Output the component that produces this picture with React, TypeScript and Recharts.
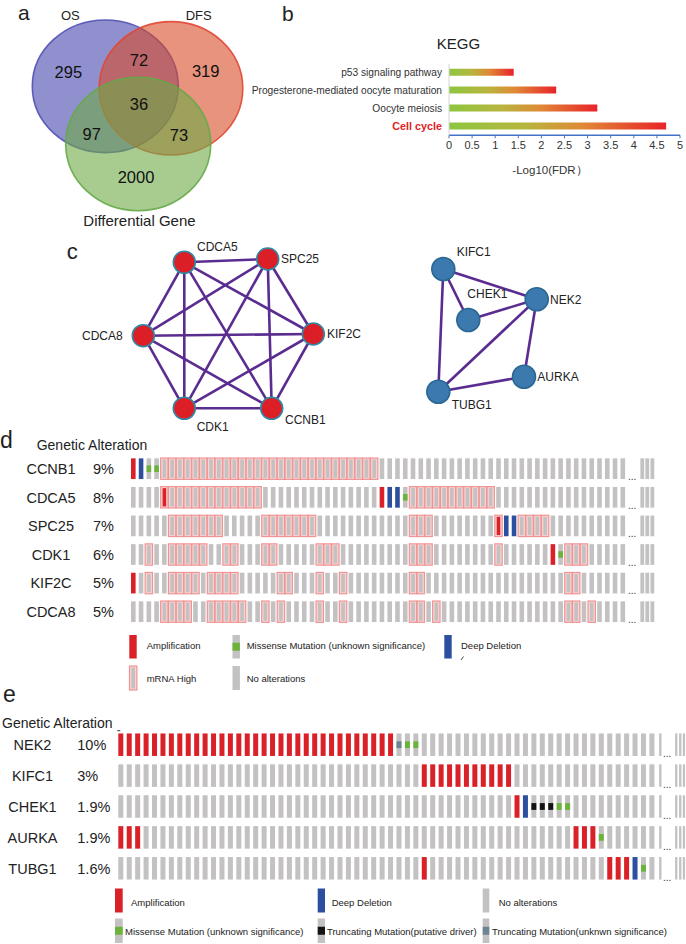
import React from "react";
import { ScatterChart, Scatter, XAxis, YAxis, BarChart, Bar } from "recharts";

const FONT = "'Liberation Sans', Arial, Helvetica, sans-serif";
const INK = "#222";

// ---------- a: Venn ----------
const vennSets = [
  { name: "OS", x: 105.3, y: 86.3, rx: 73, ry: 66.3 },
  { name: "DFS", x: 171, y: 88.3, rx: 71.8, ry: 66.7 },
  { name: "Differential Gene", x: 138.2, y: 144, rx: 72.5, ry: 66.7 }
];
const vennCounts = [
  { label: "295", x: 68.3, y: 71.7 },
  { label: "72", x: 139, y: 60 },
  { label: "319", x: 205.7, y: 70.7 },
  { label: "36", x: 139, y: 104 },
  { label: "97", x: 91.7, y: 134 },
  { label: "73", x: 179, y: 135 },
  { label: "2000", x: 136, y: 176.7 }
];
const vennStyle: Record<string, { fill: string; stroke: string }> = {
  OS: { fill: "rgba(70,70,175,0.6)", stroke: "rgba(80,80,180,0.9)" },
  DFS: { fill: "rgba(215,75,40,0.6)", stroke: "rgba(225,70,50,0.9)" },
  "Differential Gene": { fill: "rgba(110,170,70,0.6)", stroke: "rgba(100,170,70,0.9)" }
};

// ---------- b: KEGG ----------
const keggTerms = [
  "p53 signaling pathway",
  "Progesterone-mediated oocyte maturation",
  "Oocyte meiosis",
  "Cell cycle"
];
const keggLogFdr = [1.4, 2.32, 3.21, 4.7];
const keggTicks = [0, 0.5, 1, 1.5, 2, 2.5, 3, 3.5, 4, 4.5, 5];
const keggData = keggTerms.map((term, i) => ({ term, value: keggLogFdr[i] }));

// ---------- c: networks ----------
const redNodes = [
  { name: "CDCA5", x: 184.3, y: 262.3 },
  { name: "SPC25", x: 267.7, y: 259 },
  { name: "CDCA8", x: 143.3, y: 335.7 },
  { name: "KIF2C", x: 313.3, y: 334 },
  { name: "CDK1", x: 184.3, y: 408.3 },
  { name: "CCNB1", x: 271.7, y: 408.3 }
];
const redEdges = [
  ["CDCA5", "SPC25"], ["CDCA5", "CDCA8"], ["CDCA5", "KIF2C"], ["CDCA5", "CDK1"], ["CDCA5", "CCNB1"],
  ["SPC25", "CDCA8"], ["SPC25", "KIF2C"], ["SPC25", "CDK1"], ["SPC25", "CCNB1"],
  ["CDCA8", "KIF2C"], ["CDCA8", "CDK1"], ["CDCA8", "CCNB1"],
  ["KIF2C", "CDK1"], ["KIF2C", "CCNB1"],
  ["CDK1", "CCNB1"]
];
const blueNodes = [
  { name: "KIFC1", x: 443.3, y: 269 },
  { name: "CHEK1", x: 468.3, y: 320 },
  { name: "NEK2", x: 536.7, y: 299.3 },
  { name: "AURKA", x: 524, y: 376.7 },
  { name: "TUBG1", x: 438.3, y: 391.7 }
];
const blueEdges = [
  ["KIFC1", "NEK2"], ["KIFC1", "CHEK1"], ["KIFC1", "TUBG1"],
  ["CHEK1", "NEK2"], ["NEK2", "TUBG1"], ["NEK2", "AURKA"], ["AURKA", "TUBG1"]
];
// label offsets from node centre (dx, dy, anchor)
const nodeLabelPlace: Record<string, [number, number, string]> = {
  CDCA5: [12.7, -11.3, "start"],
  SPC25: [13.3, 4.3, "start"],
  CDCA8: [-20.6, 4.3, "end"],
  KIF2C: [13.7, 4.3, "start"],
  CDK1: [12.4, 23, "start"],
  CCNB1: [13.3, 16, "start"],
  KIFC1: [13.4, -13, "start"],
  CHEK1: [-1, -21.7, "start"],
  NEK2: [13.3, 4.3, "start"],
  AURKA: [13.3, 4.3, "start"],
  TUBG1: [13.4, 17.6, "start"]
};

// ---------- d / e: oncoprints ----------
const SAMPLES = 64;
const dGenes = ["CCNB1", "CDCA5", "SPC25", "CDK1", "KIF2C", "CDCA8"];
const dPct = ["9%", "8%", "7%", "6%", "5%", "5%"];
// runs: [code, from, to]  A amp, D deep del, M missense, H mRNA high, X amp + mRNA high
const dRuns: [string, number, number?][][] = [
  [["A", 0], ["D", 1], ["M", 2, 3], ["H", 4, 31]],
  [["X", 4], ["H", 5, 16], ["A", 32], ["D", 33, 34], ["M", 35], ["H", 36, 46]],
  [["H", 5, 11], ["H", 17, 23], ["H", 36, 38], ["X", 47], ["D", 48, 49], ["H", 50, 53]],
  [["H", 2], ["H", 5, 9], ["H", 12, 13], ["H", 17, 18], ["H", 24, 26], ["H", 36, 38], ["H", 47], ["A", 54], ["M", 55], ["H", 56, 58]],
  [["A", 0], ["H", 2], ["H", 5, 8], ["H", 10, 13], ["H", 19, 20], ["H", 24], ["H", 27], ["H", 36, 37], ["H", 56, 57]],
  [["H", 4, 7], ["H", 10, 14], ["H", 17], ["H", 19], ["H", 24], ["H", 27], ["H", 36, 37], ["H", 39], ["H", 56, 57], ["H", 59]]
];
const eGenes = ["NEK2", "KIFC1", "CHEK1", "AURKA", "TUBG1"];
const ePct = ["10%", "3%", "1.9%", "1.9%", "1.6%"];
// T truncating (putative driver), U truncating (unknown significance)
const eRuns: [string, number, number?][][] = [
  [["A", 0, 32], ["U", 33], ["M", 34, 35]],
  [["A", 36, 46]],
  [["A", 47], ["D", 48], ["T", 49, 51], ["M", 52, 53]],
  [["A", 0, 2], ["A", 54, 56], ["M", 57]],
  [["A", 36], ["A", 58, 60], ["D", 61], ["M", 62]]
];

const C = {
  gray: "#c3c1c1",
  red: "#da2128",
  blue: "#2c4f9f",
  green: "#6cb33b",
  black: "#141414",
  slate: "#6c8493",
  pinkStroke: "#ef9494",
  pinkFill: "#f8d3d3",
  edge: "#5b2c90"
};

function toCells(runs: [string, number, number?][][]) {
  return runs.flatMap((geneRuns, row) => {
    const codes = Array(SAMPLES).fill(".");
    geneRuns.forEach(([code, a, b]) => {
      for (let i = a; i <= (b ?? a); i++) codes[i] = code;
    });
    return codes.map((code, col) => ({ row, col, code }));
  });
}

const dCells = toCells(dRuns);
const eCells = toCells(eRuns);
const dTails = dGenes.map((_, row) => ({ row, col: SAMPLES }));
const eTails = eGenes.map((_, row) => ({ row, col: SAMPLES }));

// layout of the two oncoprints (page px)
const AXIS_W = 110;
const D = { top: 440, height: 190, x0: 133.3, dx: 7.77, y0: 468.7, dy: 28.6, w: 4.6, h: 20.7 };
const E = { top: 705, height: 185, x0: 120.8, dx: 8.43, y0: 744.7, dy: 30.9, w: 5, h: 22.5 };

function domains(L: typeof D) {
  const xmin = -(L.x0 - AXIS_W) / L.dx;
  const xd = [xmin, xmin + (686 - AXIS_W) / L.dx];
  const rel = L.y0 - L.top;
  const yd = [-rel / L.dy, (L.height - rel) / L.dy];
  return { xd, yd };
}

function DCell(props: any) {
  const { cx, cy, payload } = props;
  const { w, h } = D;
  const x = cx - w / 2;
  const y = cy - h / 2;
  const code = payload.code;
  if (code === "H" || code === "X") {
    const bw = 7.4;
    const iw = 3.6;
    return (
      <g>
        <rect x={cx - bw / 2} y={y - 0.3} width={bw} height={h + 0.6} fill={C.pinkFill} stroke={C.pinkStroke} strokeWidth={1.2} />
        <rect x={cx - iw / 2} y={y + 1.2} width={iw} height={h - 2.4} fill={code === "X" ? C.red : C.gray} />
      </g>
    );
  }
  const fill = code === "A" ? C.red : code === "D" ? C.blue : C.gray;
  return (
    <g>
      <rect x={x} y={y} width={w} height={h} fill={fill} />
      {code === "M" ? <rect x={x} y={cy - 3.3} width={w} height={6.6} fill={C.green} /> : null}
    </g>
  );
}

function ECell(props: any) {
  const { cx, cy, payload } = props;
  const { w, h } = E;
  const x = cx - w / 2;
  const y = cy - h / 2;
  const code = payload.code;
  const fill = code === "A" ? C.red : code === "D" ? C.blue : C.gray;
  const mark = code === "M" ? C.green : code === "T" ? C.black : code === "U" ? C.slate : null;
  return (
    <g>
      <rect x={x} y={y} width={w} height={h} fill={fill} />
      {mark ? <rect x={x} y={cy - 3.4} width={w} height={6.8} fill={mark} /> : null}
    </g>
  );
}

function DTail(props: any) {
  const { cx, cy } = props;
  const { h } = D;
  return (
    <g>
      <text x={cx - 2.6} y={cy + h / 2 + 1} fontSize={10} fill="#333">...</text>
      {[11.7, 16.7, 21.8].map((o) => (
        <rect key={o} x={cx + o - 1.9} y={cy - h / 2} width={3.8} height={h} fill={C.gray} />
      ))}
    </g>
  );
}

function ETail(props: any) {
  const { cx, cy } = props;
  const { h } = E;
  return (
    <g>
      <rect x={cx - 1.2} y={cy - h / 2} width={2.4} height={h} fill={C.gray} />
      <text x={cx + 2.7} y={cy + h / 2 + 1} fontSize={10} fill="#333">...</text>
      {[15.9, 19.9, 23.6].map((o) => (
        <rect key={o} x={cx + o - 1.15} y={cy - h / 2} width={2.3} height={h} fill={C.gray} />
      ))}
    </g>
  );
}

function geneTick(names: string[], pcts: string[], nameX: number, pctX: number) {
  return (props: any) => {
    const { y, payload } = props;
    const i = Math.round(payload.value);
    return (
      <g>
        <text x={nameX} y={y} dy="0.36em" textAnchor="middle" fontSize={14.5} fill={INK}>{names[i]}</text>
        <text x={pctX} y={y} dy="0.36em" textAnchor="start" fontSize={14.5} fill={INK}>{pcts[i]}</text>
      </g>
    );
  };
}

function Oncoprint({ L, cells, tails, names, pcts, nameX, pctX, Cell, Tail }: any) {
  const { xd, yd } = domains(L);
  return (
    <ScatterChart width={686} height={L.height} margin={{ top: 0, right: 0, bottom: 0, left: 0 }}>
      <XAxis type="number" dataKey="col" domain={xd} allowDataOverflow hide />
      <YAxis
        type="number"
        dataKey="row"
        domain={yd}
        reversed
        allowDataOverflow
        width={AXIS_W}
        ticks={names.map((_: string, i: number) => i)}
        interval={0}
        axisLine={false}
        tickLine={false}
        tick={geneTick(names, pcts, nameX, pctX)}
      />
      <Scatter data={cells} shape={Cell} isAnimationActive={false} />
      <Scatter data={tails} shape={Tail} isAnimationActive={false} />
    </ScatterChart>
  );
}

function VennEllipse(props: any) {
  const { cx, cy, payload } = props;
  const s = vennStyle[payload.name];
  return <ellipse cx={cx} cy={cy} rx={payload.rx} ry={payload.ry} fill={s.fill} stroke={s.stroke} strokeWidth={1.6} />;
}

function VennCount(props: any) {
  const { cx, cy, payload } = props;
  return (
    <text x={cx} y={cy} dy="0.36em" textAnchor="middle" fontSize={16.5} fill="#111">
      {payload.label}
    </text>
  );
}

function networkNode(fill: string, stroke: string, r: number) {
  return (props: any) => {
    const { cx, cy, payload } = props;
    const [dx, dy, anchor] = nodeLabelPlace[payload.name];
    return (
      <g>
        <circle cx={cx} cy={cy} r={r} fill={fill} stroke={stroke} strokeWidth={1.6} />
        <text x={cx + dx} y={cy + dy} textAnchor={anchor as any} fontSize={12} fill={INK}>{payload.name}</text>
      </g>
    );
  };
}

const noDot = () => <g />;

function Network() {
  const find = (list: typeof redNodes, n: string) => list.find((d) => d.name === n)!;
  const edgeSeries = [
    ...redEdges.map(([a, b]) => [find(redNodes, a), find(redNodes, b)]),
    ...blueEdges.map(([a, b]) => [find(blueNodes, a), find(blueNodes, b)])
  ];
  return (
    <ScatterChart width={686} height={210} margin={{ top: 0, right: 0, bottom: 0, left: 0 }}>
      <XAxis type="number" dataKey="x" domain={[0, 686]} allowDataOverflow hide />
      <YAxis type="number" dataKey="y" domain={[230, 440]} reversed allowDataOverflow hide />
      {edgeSeries.map((pair, i) => (
        <Scatter key={i} data={pair} line={{ stroke: C.edge, strokeWidth: 2.6 }} shape={noDot} isAnimationActive={false} />
      ))}
      <Scatter data={redNodes} shape={networkNode("#dc1f26", "#2f8aa6", 11)} isAnimationActive={false} />
      <Scatter data={blueNodes} shape={networkNode("#3b79ae", "#2a6792", 11.5)} isAnimationActive={false} />
    </ScatterChart>
  );
}

function KeggTick(props: any) {
  const { x, y, payload } = props;
  const hit = payload.value === "Cell cycle";
  return (
    <text x={x} y={y} dy="0.36em" textAnchor="end" fontSize={hit ? 10.8 : 10.2} fontWeight={hit ? "bold" : "normal"} fill={hit ? "#e02424" : "#333"}>
      {payload.value}
    </text>
  );
}

function Kegg() {
  return (
    <BarChart layout="vertical" width={446} height={200} data={keggData} margin={{ top: 63.7, right: 6, bottom: 34.7, left: 0 }}>
      <defs>
        <linearGradient id="keggGrad" x1="0" y1="0" x2="1" y2="0">
          <stop offset="0%" stopColor="#8cc63f" />
          <stop offset="35%" stopColor="#b7b63e" />
          <stop offset="62%" stopColor="#e08836" />
          <stop offset="100%" stopColor="#e8232a" />
        </linearGradient>
      </defs>
      <XAxis
        type="number"
        domain={[0, 5]}
        ticks={keggTicks}
        interval={0}
        height={30}
        tickSize={3}
        tickMargin={3}
        axisLine={{ stroke: "#4472c4", strokeWidth: 1.4 }}
        tickLine={{ stroke: "#4472c4" }}
        tick={{ fontSize: 11, fill: "#333" }}
      />
      <YAxis
        type="category"
        dataKey="term"
        width={209}
        interval={0}
        tickSize={0}
        tickMargin={7}
        tickLine={false}
        axisLine={{ stroke: "#d4d4d4" }}
        tick={<KeggTick />}
      />
      <Bar dataKey="value" fill="url(#keggGrad)" barSize={7} isAnimationActive={false} />
    </BarChart>
  );
}

function Swatch({ x, y, w, h, fill, mark, markH = 7, pink }: any) {
  if (pink) {
    return (
      <g>
        <rect x={x} y={y} width={w} height={h} fill={C.pinkFill} stroke={C.pinkStroke} strokeWidth={1.2} />
        <rect x={x + w / 2 - 1.8} y={y + 1.5} width={3.6} height={h - 3} fill={C.gray} />
      </g>
    );
  }
  return (
    <g>
      <rect x={x} y={y} width={w} height={h} fill={fill} />
      {mark ? <rect x={x} y={y + h / 2 - markH / 2} width={w} height={markH} fill={mark} /> : null}
    </g>
  );
}

function Overlay() {
  const t = (x: number, y: number, s: string, size = 9.5, extra: any = {}) => (
    <text x={x} y={y} fontSize={size} fill={INK} {...extra}>{s}</text>
  );
  return (
    <svg width={686} height={944} style={{ position: "absolute", left: 0, top: 0, pointerEvents: "none" }}>
      {/* a */}
      {t(18, 19.5, "a", 21)}
      {t(61, 20, "OS", 13)}
      {t(185.7, 20, "DFS", 13)}
      {t(83.3, 225.5, "Differential Gene", 15)}
      {/* b */}
      {t(282, 20.5, "b", 21)}
      {t(458.5, 49.3, "KEGG", 15, { textAnchor: "middle" })}
      {t(550, 173.5, "-Log10(FDR）", 11.5, { textAnchor: "middle", fill: "#333" })}
      {/* c */}
      {t(66.7, 258.5, "c", 22)}
      {/* d */}
      {t(0, 448, "d", 23)}
      {t(36.7, 450, "Genetic Alteration", 14)}
      <Swatch x={129.3} y={635} w={7.4} h={23.5} fill={C.red} />
      {t(146.7, 648.5, "Amplification")}
      <Swatch x={232.5} y={635} w={7.4} h={23.5} fill={C.gray} mark={C.green} markH={8} />
      {t(246.7, 648.5, "Missense Mutation (unknown significance)")}
      <Swatch x={444.3} y={635} w={7.4} h={23.5} fill={C.blue} />
      {t(461, 648.5, "Deep Deletion")}
      <line x1={461} y1={660} x2={463.5} y2={656.5} stroke="#333" strokeWidth={0.9} />
      <Swatch x={129.5} y={666} w={7.4} h={24} pink />
      {t(146.7, 681.5, "mRNA High")}
      <Swatch x={232.5} y={666} w={7.4} h={24} fill={C.gray} />
      {t(246.7, 681.5, "No alterations")}
      {/* e */}
      {t(3, 702, "e", 23)}
      {t(2, 728, "Genetic Alteration", 14)}
      <line x1={117.3} y1={730.7} x2={120.3} y2={730.7} stroke="#333" strokeWidth={1} />
      <Swatch x={115} y={888.5} w={7.7} h={24} fill={C.red} />
      {t(131, 905.5, "Amplification")}
      <Swatch x={317.7} y={888.5} w={7.3} h={24} fill={C.blue} />
      {t(331.7, 905.5, "Deep Deletion")}
      <Swatch x={482.7} y={888.5} w={6.6} h={24} fill={C.gray} />
      {t(498.7, 905.5, "No alterations")}
      <Swatch x={115} y={918.5} w={7.7} h={24.5} fill={C.gray} mark={C.green} markH={8} />
      {t(125, 934.5, "Missense Mutation (unknown significance)")}
      <Swatch x={317.7} y={918.5} w={7.3} h={24.5} fill={C.gray} mark={C.black} markH={8} />
      {t(327, 934.5, "Truncating Mutation(putative driver)")}
      <Swatch x={482.7} y={918.5} w={6.6} h={24.5} fill={C.gray} mark={C.slate} markH={8} />
      {t(492, 934.5, "Truncating Mutation(unknwn significance)")}
    </svg>
  );
}

export default function App() {
  return (
    <div style={{ position: "absolute", left: 0, top: 0, width: 686, height: 944, background: "#fff", fontFamily: FONT, overflow: "hidden" }}>
      <div style={{ position: "absolute", left: 0, top: 0 }}>
        <ScatterChart width={250} height={250} margin={{ top: 0, right: 0, bottom: 0, left: 0 }}>
          <XAxis type="number" dataKey="x" domain={[0, 250]} allowDataOverflow hide />
          <YAxis type="number" dataKey="y" domain={[0, 250]} reversed allowDataOverflow hide />
          <Scatter data={vennSets} shape={VennEllipse} isAnimationActive={false} />
          <Scatter data={vennCounts} shape={VennCount} isAnimationActive={false} />
        </ScatterChart>
      </div>
      <div style={{ position: "absolute", left: 240, top: 0 }}>
        <Kegg />
      </div>
      <div style={{ position: "absolute", left: 0, top: 230 }}>
        <Network />
      </div>
      <div style={{ position: "absolute", left: 0, top: D.top }}>
        <Oncoprint L={D} cells={dCells} tails={dTails} names={dGenes} pcts={dPct} nameX={51} pctX={93} Cell={DCell} Tail={DTail} />
      </div>
      <div style={{ position: "absolute", left: 0, top: E.top }}>
        <Oncoprint L={E} cells={eCells} tails={eTails} names={eGenes} pcts={ePct} nameX={32.5} pctX={77.3} Cell={ECell} Tail={ETail} />
      </div>
      <Overlay />
    </div>
  );
}
